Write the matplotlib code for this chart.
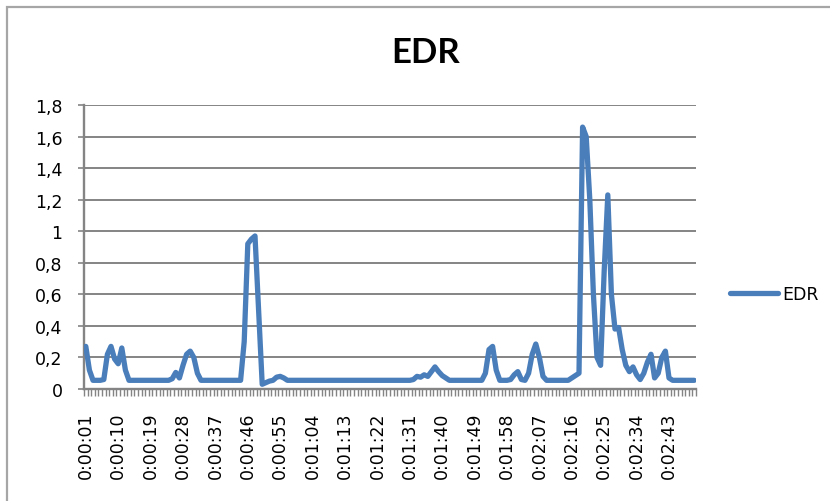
import matplotlib
matplotlib.use('Agg')
import matplotlib.pyplot as plt
from matplotlib.patches import Rectangle

# EDR per second, from 0:00:01 to 0:02:50
edr = [
    0.27, 0.12, 0.055, 0.055, 0.055, 0.06, 0.22, 0.27, 0.19, 0.16,
    0.26, 0.12, 0.055, 0.055, 0.055, 0.055, 0.055, 0.055, 0.055, 0.055,
    0.055, 0.055, 0.055, 0.055, 0.065, 0.105, 0.07, 0.15, 0.22, 0.24,
    0.2, 0.1, 0.055, 0.055, 0.055, 0.055, 0.055, 0.055, 0.055, 0.055,
    0.055, 0.055, 0.055, 0.055, 0.3, 0.92, 0.95, 0.97, 0.5, 0.03,
    0.04, 0.05, 0.055, 0.075, 0.08, 0.07, 0.055, 0.055, 0.055, 0.055,
    0.055, 0.055, 0.055, 0.055, 0.055, 0.055, 0.055, 0.055, 0.055, 0.055,
    0.055, 0.055, 0.055, 0.055, 0.055, 0.055, 0.055, 0.055, 0.055, 0.055,
    0.055, 0.055, 0.055, 0.055, 0.055, 0.055, 0.055, 0.055, 0.055, 0.055,
    0.055, 0.06, 0.08, 0.075, 0.09, 0.08, 0.11, 0.14, 0.11, 0.085,
    0.07, 0.055, 0.055, 0.055, 0.055, 0.055, 0.055, 0.055, 0.055, 0.055,
    0.055, 0.1, 0.25, 0.27, 0.12, 0.055, 0.055, 0.055, 0.06, 0.09,
    0.11, 0.06, 0.055, 0.1, 0.22, 0.285, 0.2, 0.08, 0.055, 0.055,
    0.055, 0.055, 0.055, 0.055, 0.055, 0.07, 0.085, 0.1, 1.66, 1.6,
    1.2, 0.6, 0.2, 0.15, 0.75, 1.23, 0.6, 0.38, 0.39, 0.25,
    0.15, 0.11, 0.14, 0.09, 0.06, 0.1, 0.17, 0.22, 0.07, 0.1,
    0.2, 0.24, 0.07, 0.055, 0.055, 0.055, 0.055, 0.055, 0.055, 0.055,
]
segundos = list(range(1, len(edr) + 1))
rotulos = [f'{s // 3600}:{(s // 60) % 60:02d}:{s % 60:02d}' for s in segundos]
y_ticks = [0, 0.2, 0.4, 0.6, 0.8, 1, 1.2, 1.4, 1.6, 1.8]
y_rotulos = ['0', '0,2', '0,4', '0,6', '0,8', '1', '1,2', '1,4', '1,6', '1,8']

cor_linha = '#4A7EBB'
cinza = '#848484'

fig = plt.figure(figsize=(8.3, 5.02), dpi=100)
ax = fig.add_axes([84 / 830, 1 - 390 / 502, (696 - 84) / 830, (390 - 106) / 502])

x = list(range(len(edr)))
ax.plot(x, edr, color=cor_linha, lw=3.8, solid_joinstyle='round',
        solid_capstyle='round', label='EDR', zorder=3)

ax.set_xlim(-0.5, len(edr) - 0.5)
ax.set_ylim(0, 1.8)

# eixo y
ax.set_yticks(y_ticks)
ax.set_yticklabels(y_rotulos)
ax.yaxis.grid(True, color=cinza, lw=1.4)
ax.set_axisbelow(True)
ax.tick_params(axis='y', direction='out', length=4.5, width=1.2, color=cinza,
               pad=11, labelsize=12.5)

# eixo x: rótulos a cada 9 s, marcas entre as categorias
idx = list(range(0, len(edr), 9))
ax.set_xticks(idx)
ax.set_xticklabels([rotulos[i] for i in idx], rotation=90)
ax.set_xticks([k - 0.5 for k in range(len(edr) + 1)], minor=True)
ax.tick_params(axis='x', which='major', length=0, pad=16, labelsize=12.5)
ax.tick_params(axis='x', which='minor', direction='out', length=5, width=1.0,
               color=cinza)

for s in ['top', 'right']:
    ax.spines[s].set_visible(False)
for s in ['left', 'bottom']:
    ax.spines[s].set_color(cinza)
    ax.spines[s].set_linewidth(1.7)

fig.text(425.5 / 830, 1 - 53 / 502, 'EDR', ha='center', va='center',
         fontsize=25, fontweight='bold', family=['Lato', 'DejaVu Sans'])

fig.legend(loc='center left', bbox_to_anchor=(730 / 830, 1 - 295 / 502),
           frameon=False, fontsize=12.5, handlelength=2.75,
           handletextpad=0.25, borderpad=0, borderaxespad=0)

# moldura do gráfico
fig.patches.append(Rectangle((7 / 830, -0.2), 1.2, 1.2 - 8 / 502,
                             transform=fig.transFigure, fill=False,
                             edgecolor='#a6a6a6', lw=1.6))

fig.savefig('out.png', dpi=100)
